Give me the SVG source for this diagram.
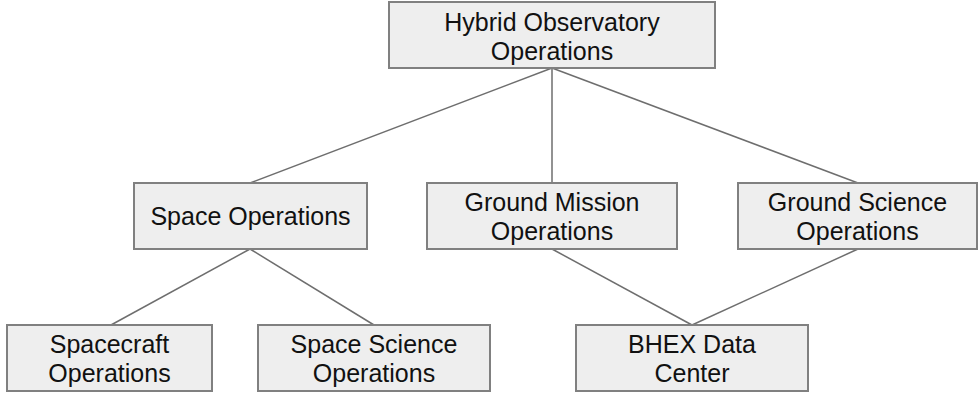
<svg xmlns="http://www.w3.org/2000/svg" width="979" height="396" viewBox="0 0 979 396">
<style>
.box{fill:#eeeeee;stroke:#808080;stroke-width:2}
.lbl{font-family:"Liberation Sans",Arial,sans-serif;font-size:25px;fill:#111;text-anchor:middle}
.conn line{stroke:#6e6e6e;stroke-width:1.5}
</style>
<rect width="979" height="396" fill="#ffffff"/>
<g id="connectors" class="conn">
<line x1="552" y1="68" x2="250" y2="183"/>
<line x1="552" y1="68" x2="552" y2="183"/>
<line x1="552" y1="68" x2="858" y2="183"/>
<line x1="250" y1="249" x2="111" y2="325"/>
<line x1="250" y1="249" x2="374" y2="325"/>
<line x1="552" y1="249" x2="692" y2="325"/>
<line x1="858" y1="249" x2="692" y2="325"/>
</g>
<g id="hybrid">
<rect class="box" x="389" y="2" width="326" height="66"/>
<text class="lbl" x="552" y="31">Hybrid Observatory</text>
<text class="lbl" x="552" y="60">Operations</text>
</g>
<g id="space-ops">
<rect class="box" x="134" y="183" width="233" height="66"/>
<text class="lbl" x="250.5" y="225">Space Operations</text>
</g>
<g id="ground-mission">
<rect class="box" x="427" y="183" width="250" height="66"/>
<text class="lbl" x="552" y="211">Ground Mission</text>
<text class="lbl" x="552" y="240">Operations</text>
</g>
<g id="ground-science">
<rect class="box" x="738" y="183" width="239" height="66"/>
<text class="lbl" x="857.5" y="211">Ground Science</text>
<text class="lbl" x="857.5" y="240">Operations</text>
</g>
<g id="spacecraft">
<rect class="box" x="7" y="325" width="205" height="66"/>
<text class="lbl" x="109.5" y="353">Spacecraft</text>
<text class="lbl" x="109.5" y="382">Operations</text>
</g>
<g id="space-science">
<rect class="box" x="258" y="325" width="232" height="66"/>
<text class="lbl" x="374" y="353">Space Science</text>
<text class="lbl" x="374" y="382">Operations</text>
</g>
<g id="bhex">
<rect class="box" x="576" y="325" width="232" height="66"/>
<text class="lbl" x="692" y="353">BHEX Data</text>
<text class="lbl" x="692" y="382">Center</text>
</g>
</svg>
